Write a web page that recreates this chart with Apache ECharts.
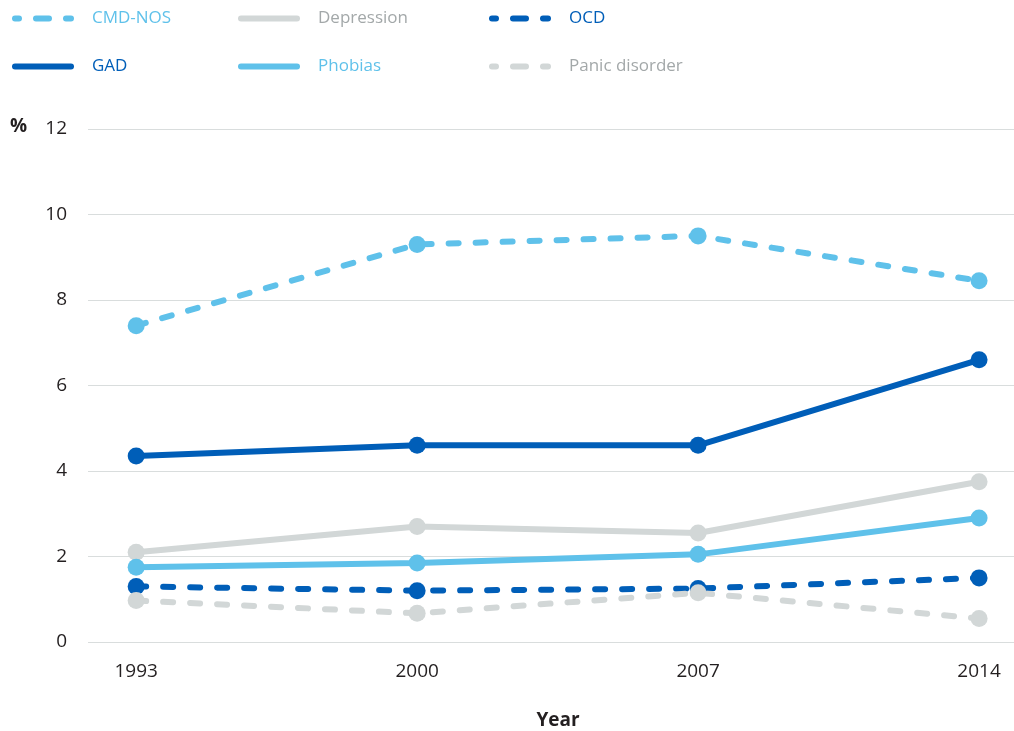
<!DOCTYPE html>
<html><head><meta charset="utf-8">
<script src="https://cdn.jsdelivr.net/npm/echarts@6/dist/echarts.min.js"></script>
<style>html,body{margin:0;padding:0;background:#fff}#c{width:1014px;height:731px}</style>
</head><body><div id="c"></div>
<script>
const years = [1993, 2000, 2007, 2014];
const cmdNos = [7.4, 9.3, 9.5, 8.45];
const depression = [2.1, 2.7, 2.55, 3.75];
const ocd = [1.3, 1.2, 1.25, 1.5];
const gad = [4.35, 4.6, 4.6, 6.6];
const phobias = [1.75, 1.85, 2.05, 2.9];
const panic = [0.97, 0.67, 1.15, 0.55];
const yTicks = [0, 2, 4, 6, 8, 10, 12];

const LIGHT = '#5fc1ea', DARK = '#005eb8', GREY = '#d2d7d7', GREYTXT = '#a3a8a9';
const FONT = '"Open Sans", "Noto Sans", sans-serif';
const pairs = v => years.map((y, i) => [y, v[i]]);

const defs = [
  {name: 'CMD-NOS', data: cmdNos, color: LIGHT, txt: LIGHT, dash: true, left: 7, top: 5},
  {name: 'Depression', data: depression, color: GREY, txt: GREYTXT, dash: false, left: 233, top: 5},
  {name: 'OCD', data: ocd, color: DARK, txt: DARK, dash: true, left: 484, top: 5},
  {name: 'GAD', data: gad, color: DARK, txt: DARK, dash: false, left: 7, top: 53},
  {name: 'Phobias', data: phobias, color: LIGHT, txt: LIGHT, dash: false, left: 233, top: 53},
  {name: 'Panic disorder', data: panic, color: GREY, txt: GREYTXT, dash: true, left: 484, top: 53}
];

const chart = echarts.init(document.getElementById('c'));
chart.setOption({
  animation: false,
  textStyle: {fontFamily: FONT},
  grid: {left: 88, right: 0, top: 129, bottom: 89, containLabel: false, outerBoundsMode: 'none'},
  legend: defs.map(d => ({
    data: [d.name], left: d.left, top: d.top,
    itemWidth: 56, itemHeight: 14,
    itemStyle: {opacity: 0},
    lineStyle: {width: 6, cap: 'round', type: d.dash ? [13, 17] : 'solid', dashOffset: d.dash ? 9 : 0},
    textStyle: {color: d.txt, fontSize: 17, fontFamily: FONT, padding: [0, 0, 0, 16]},
    selectedMode: false
  })),
  xAxis: {
    type: 'value', min: 1991.8, max: 2014.87,
    axisLine: {show: false}, axisTick: {show: false}, splitLine: {show: false},
    axisLabel: {customValues: years, color: '#231f20', fontSize: 19, margin: 20, formatter: v => String(v)},
    name: 'Year', nameLocation: 'middle', nameGap: 69,
    nameTextStyle: {fontWeight: 'bold', fontSize: 19, color: '#231f20', padding: [0, 0, 0, 14]}
  },
  yAxis: {
    type: 'value', min: 0, max: 12, interval: 2,
    axisLine: {show: false}, axisTick: {show: false},
    splitLine: {lineStyle: {color: '#d9dddd', width: 1}},
    axisLabel: {color: '#231f20', fontSize: 19, margin: 21}
  },
  graphic: [{type: 'text', left: 10, top: 117, style: {text: '%', font: 'bold 19px ' + FONT, fill: '#231f20'}}],
  series: defs.map(d => ({
    name: d.name, type: 'line', data: pairs(d.data),
    symbol: 'circle', symbolSize: 17,
    itemStyle: {color: d.color},
    lineStyle: {color: d.color, width: 6, cap: 'round', type: d.dash ? [10, 17] : 'solid'}
  }))
});
</script></body></html>
